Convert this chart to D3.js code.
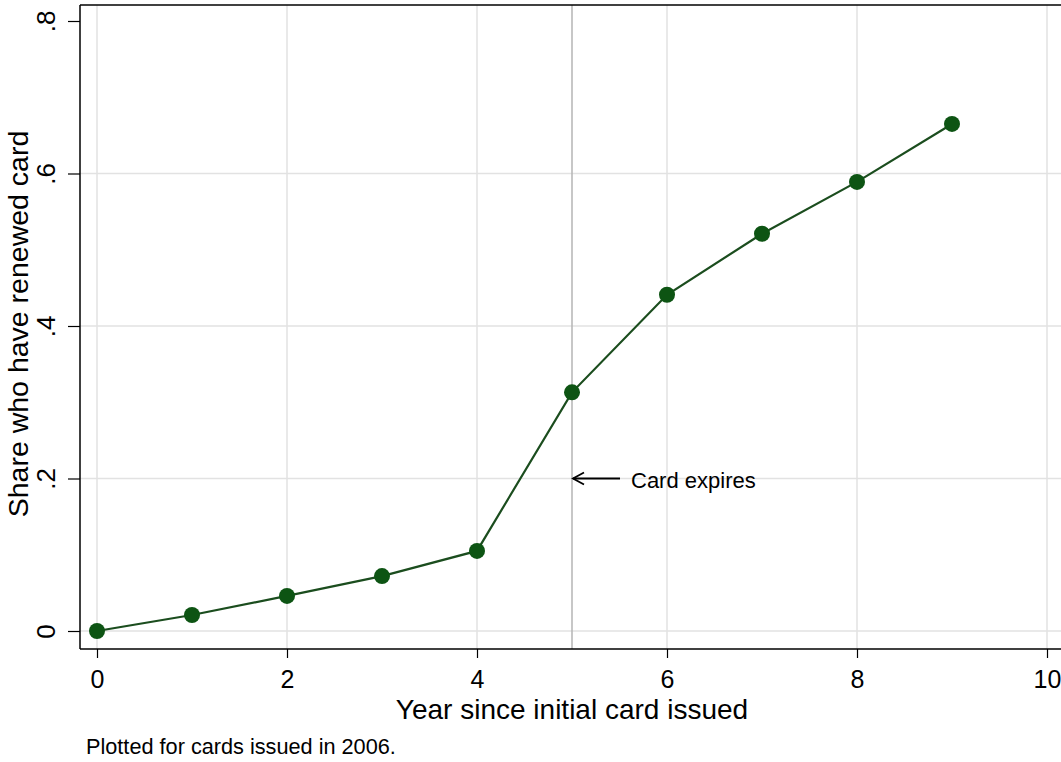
<!DOCTYPE html>
<html>
<head>
<meta charset="utf-8">
<script src="https://cdn.jsdelivr.net/npm/d3@7"></script>
<style>
html,body{margin:0;padding:0;background:#fff;}
svg{display:block;font-family:"Liberation Sans",Arial,Helvetica,sans-serif;}
</style>
</head>
<body>
<svg id="chart" width="1061" height="762"></svg>
<script>
const years = [0,1,2,3,4,5,6,7,8,9];
const shareRenewed = [0,0.021,0.046,0.072,0.105,0.313,0.441,0.521,0.589,0.665];
const xTicks = [0,2,4,6,8,10];
const yTicks = [0,0.2,0.4,0.6,0.8];
const yTickLabels = ["0",".2",".4",".6",".8"];
const expiryYear = 5;
const annotationValue = 0.2;
const annotationText = "Card expires";
const xTitle = "Year since initial card issued";
const yTitle = "Share who have renewed card";
const note = "Plotted for cards issued in 2006.";

(function(){
const svg = d3.select("#chart");
const x = d3.scaleLinear().domain([0,10]).range([97,1047]);
const y = d3.scaleLinear().domain([0,0.8]).range([631,21]);
const pLeft = 80, pTop = 5, pBottom = 649, pRight = 1061;
const FONT = "Liberation Sans, Arial, sans-serif";

// gridlines
svg.append("g").selectAll("line").data(yTicks.filter(d=>d<0.8)).join("line")
  .attr("x1",pLeft).attr("x2",pRight).attr("y1",d=>y(d)).attr("y2",d=>y(d))
  .attr("stroke","#e2e2e2").attr("stroke-width",1.5);
svg.append("g").selectAll("line").data(xTicks).join("line")
  .attr("x1",d=>x(d)).attr("x2",d=>x(d)).attr("y1",pTop).attr("y2",pBottom)
  .attr("stroke","#e2e2e2").attr("stroke-width",1.5);

// expiry line
svg.append("line").attr("x1",x(expiryYear)).attr("x2",x(expiryYear))
  .attr("y1",pTop).attr("y2",pBottom).attr("stroke","#b4b4b4").attr("stroke-width",1.5);

// frame
svg.append("line").attr("x1",pLeft).attr("x2",pRight).attr("y1",pTop).attr("y2",pTop)
  .attr("stroke","#000").attr("stroke-width",1.5);

// axes
const xAxis = d3.axisBottom(x).tickValues(xTicks).tickSize(9).tickFormat(d3.format("d"));
const gx = svg.append("g").attr("transform",`translate(0,${pBottom})`).call(xAxis);
gx.select(".domain").attr("d",`M${pLeft},0H${pRight}`).attr("stroke-width",1.5);
gx.selectAll(".tick line").attr("stroke-width",1.2);
gx.selectAll("text").attr("font-size",25).attr("fill","#000").attr("font-family",FONT)
  .attr("dy",null).attr("y",39);

const yAxis = d3.axisLeft(y).tickValues(yTicks).tickSize(12)
  .tickFormat((d,i)=>yTickLabels[i]);
const gy = svg.append("g").attr("transform",`translate(${pLeft},0)`).call(yAxis);
gy.select(".domain").attr("d",`M0,${pTop}V${pBottom}`).attr("stroke-width",1.5);
gy.selectAll(".tick line").attr("stroke-width",1.2);
gy.selectAll("text").attr("font-size",26).attr("fill","#000")
  .attr("font-family",FONT)
  .attr("text-anchor","middle").attr("dy",null)
  .attr("transform","rotate(-90)").attr("x",0).attr("y",-25);

// line and points
const data = years.map((d,i)=>({x:d,y:shareRenewed[i]}));
svg.append("path").datum(data)
  .attr("d",d3.line().x(d=>x(d.x)).y(d=>y(d.y)))
  .attr("fill","none").attr("stroke","#1b4d1e").attr("stroke-width",2.2);
svg.append("g").selectAll("circle").data(data).join("circle")
  .attr("cx",d=>x(d.x)).attr("cy",d=>y(d.y)).attr("r",8)
  .attr("fill","#0d5413");

// annotation arrow
const ay = y(annotationValue);
const ax0 = x(expiryYear)+1, ax1 = x(expiryYear)+48;
svg.append("line").attr("x1",ax0).attr("x2",ax1).attr("y1",ay).attr("y2",ay)
  .attr("stroke","#000").attr("stroke-width",1.8);
svg.append("path").attr("d",`M${ax0+11},${ay-6}L${ax0},${ay}L${ax0+11},${ay+6}`)
  .attr("fill","none").attr("stroke","#000").attr("stroke-width",1.8);
svg.append("text").attr("x",x(expiryYear)+59).attr("y",ay+9)
  .attr("font-size",22).text(annotationText);

// titles
svg.append("text").attr("x",572).attr("y",719).attr("text-anchor","middle")
  .attr("font-size",28).text(xTitle);
svg.append("text").attr("transform","translate(28,324) rotate(-90)")
  .attr("text-anchor","middle").attr("font-size",28.5).text(yTitle);
svg.append("text").attr("x",86).attr("y",754).attr("font-size",21.7).text(note);
})();
</script>
</body>
</html>
